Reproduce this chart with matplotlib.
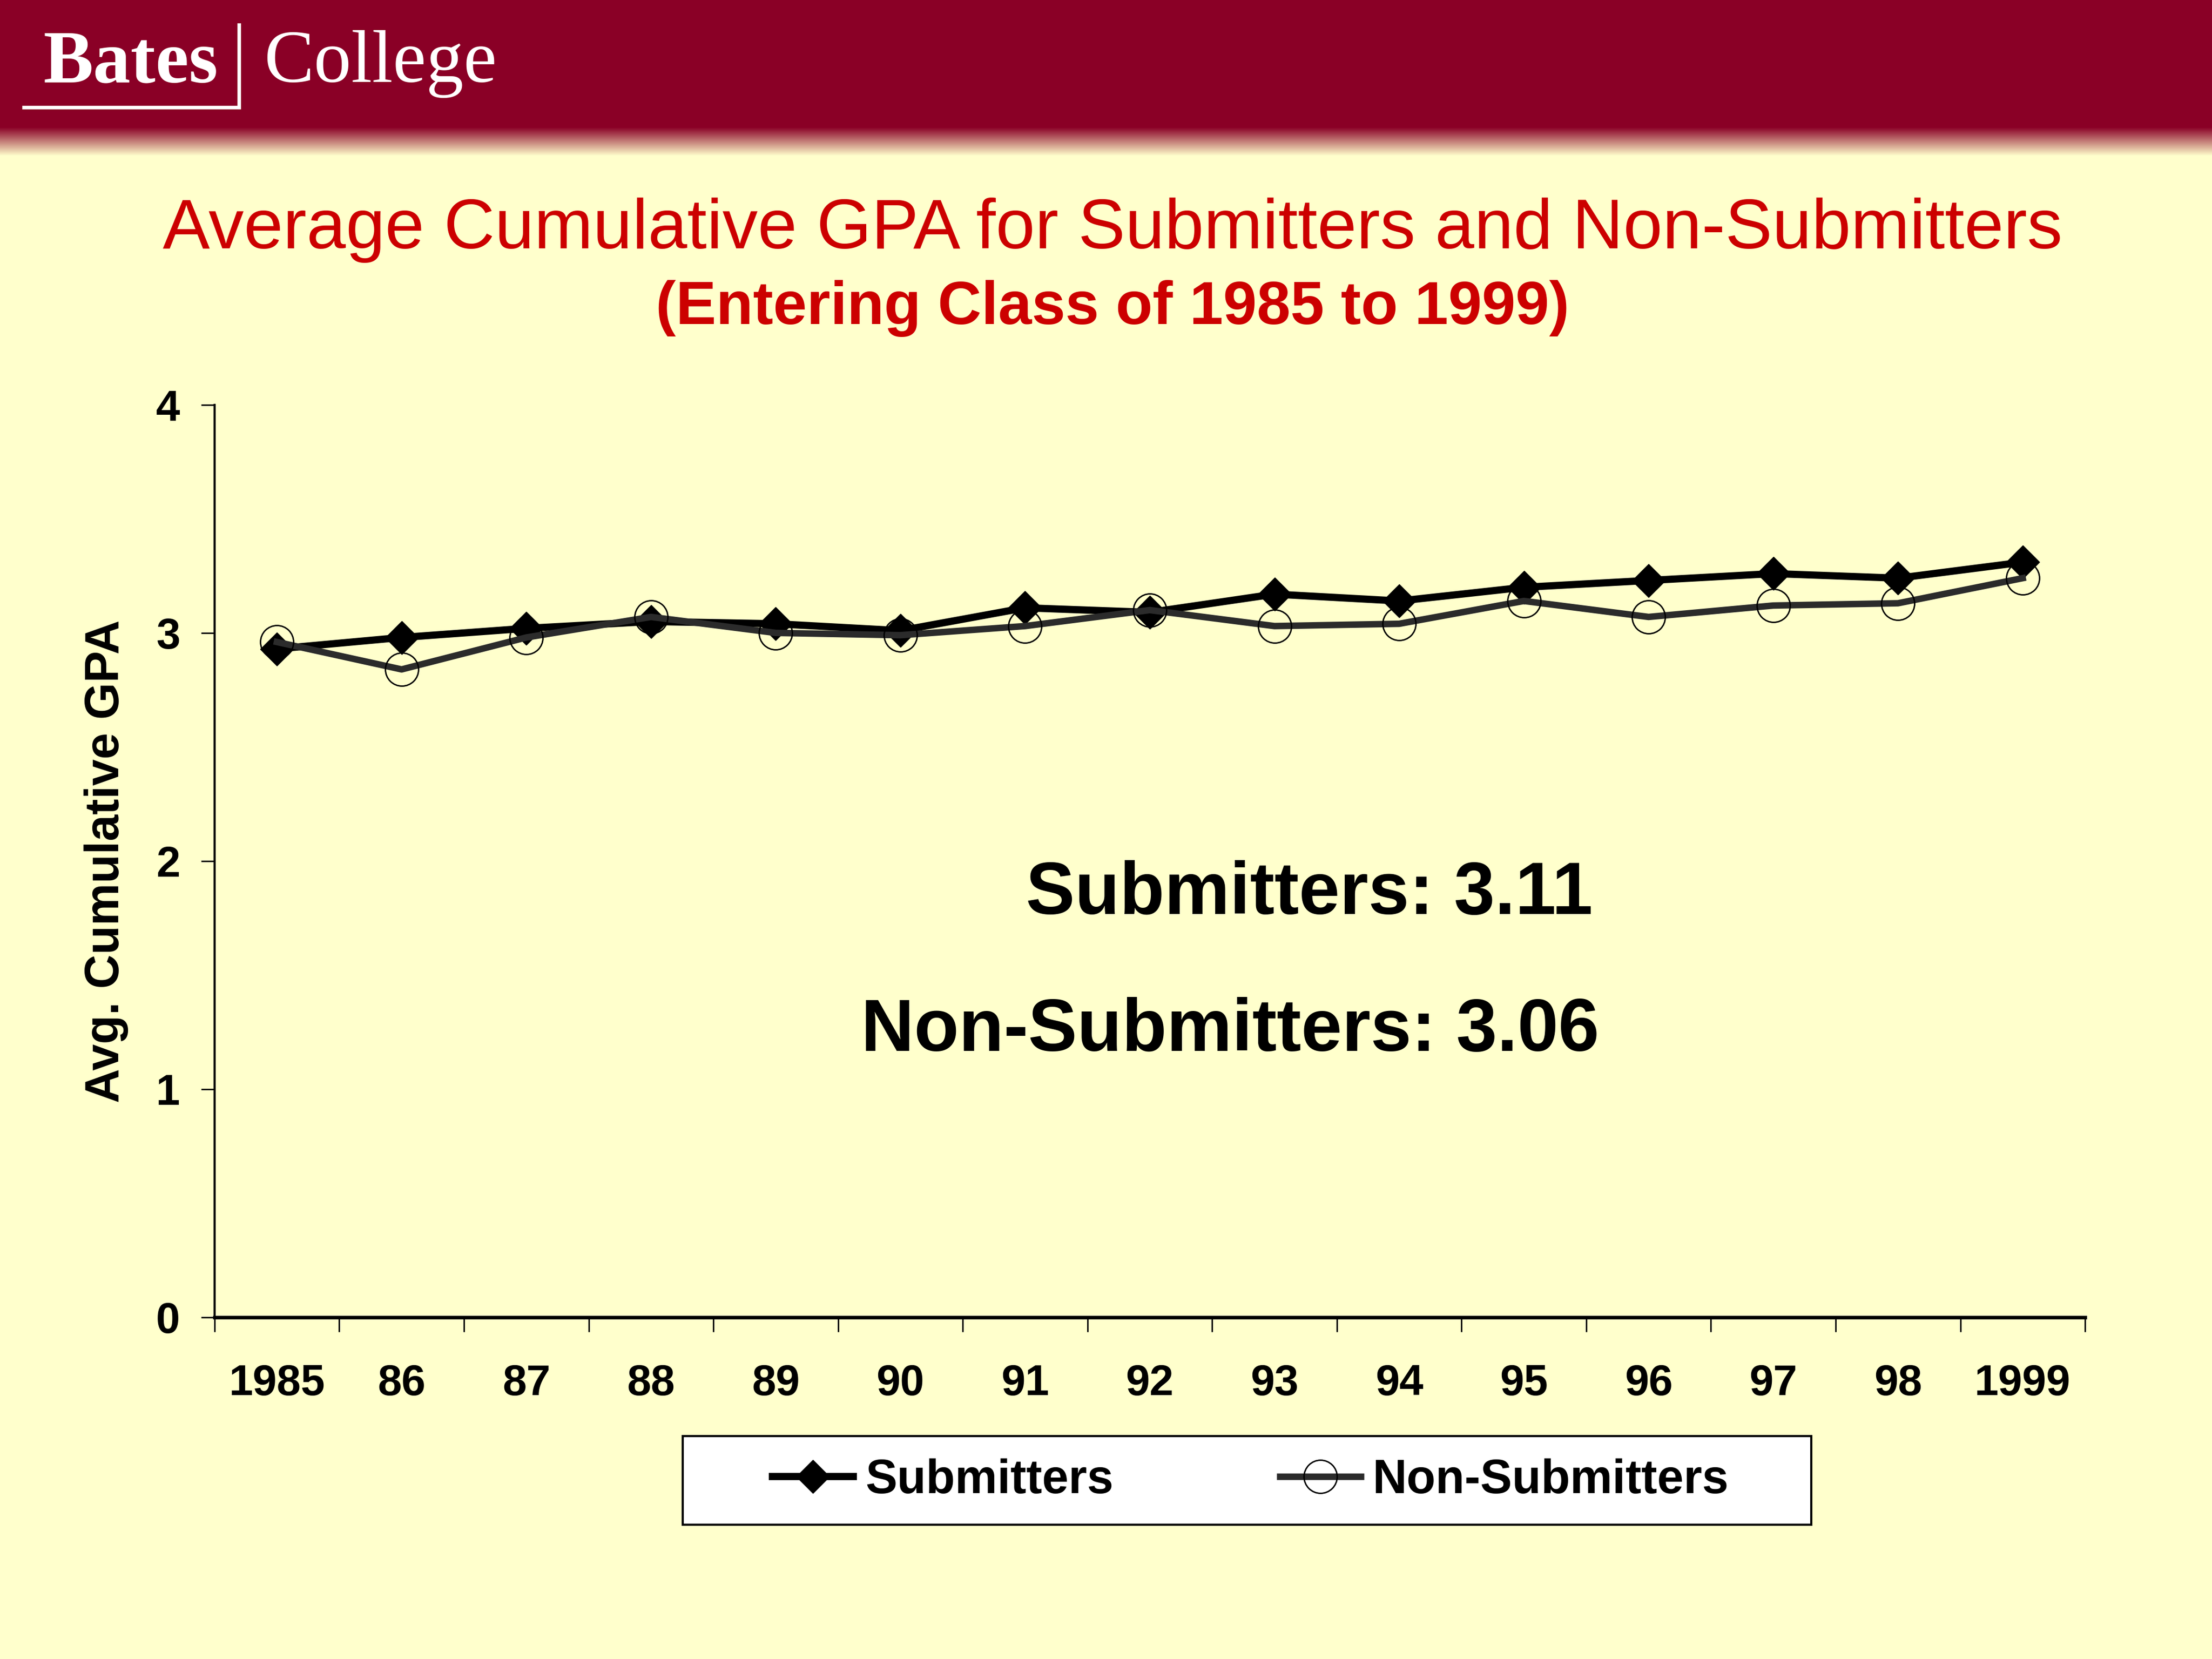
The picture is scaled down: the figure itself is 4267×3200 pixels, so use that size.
import numpy as np
import matplotlib
matplotlib.use('Agg')
import matplotlib.pyplot as plt
from matplotlib.lines import Line2D
from matplotlib.patches import Rectangle

# data
years = ['1985', '86', '87', '88', '89', '90', '91', '92',
         '93', '94', '95', '96', '97', '98', '1999']
submitters = [2.93, 2.98, 3.02, 3.05, 3.04, 3.01, 3.11, 3.09,
              3.17, 3.14, 3.20, 3.23, 3.26, 3.24, 3.31]
non_submitters = [2.96, 2.84, 2.98, 3.07, 3.00, 2.99, 3.03, 3.10,
                  3.03, 3.04, 3.14, 3.07, 3.12, 3.13, 3.24]
y_ticks = [0, 1, 2, 3, 4]

BG = '#FFFFCC'
HEADER = '#8A0026'
RED = '#CC0000'

plt.rcParams['font.family'] = ['Liberation Sans', 'DejaVu Sans']

fig = plt.figure(figsize=(42.67, 32), dpi=100, facecolor=BG)

# header band with a soft fade into the background
bg = fig.add_axes([0, 0, 1, 1], zorder=-5)
bg.axis('off')
rows = np.zeros((3200, 1, 3))
top_rgb = np.array(matplotlib.colors.to_rgb(HEADER))
bot_rgb = np.array(matplotlib.colors.to_rgb(BG))
t = np.clip((np.arange(3200) - 245) / 55.0, 0, 1)
rows[:, 0, :] = top_rgb[None, :] * (1 - t[:, None]) + bot_rgb[None, :] * t[:, None]
bg.imshow(rows, aspect='auto', extent=(0, 1, 0, 1), origin='upper')
bg.set_xlim(0, 1)
bg.set_ylim(0, 1)

# logo
fig.text(0.0195, 0.9506, 'Bates', color='white', fontsize=104,
         family='Liberation Serif', fontweight='bold', va='baseline')
fig.text(0.1193, 0.9506, 'College', color='white', fontsize=104,
         family='Liberation Serif', va='baseline')
fig.add_artist(Line2D([0.0108, 0.108], [0.9353, 0.9353], color='white', lw=5))
fig.add_artist(Line2D([0.108, 0.108], [0.9353, 0.985], color='white', lw=5))

# titles
fig.text(0.503, 0.8503, 'Average Cumulative GPA for Submitters and Non-Submitters',
         ha='center', va='baseline', fontsize=98, color=RED)
fig.text(0.503, 0.8047, '(Entering Class of 1985 to 1999)',
         ha='center', va='baseline', fontsize=84, color=RED, fontweight='bold')

ax = fig.add_axes([0.097, 0.206, 0.8456, 0.55])
ax.set_facecolor('none')
x = np.arange(len(years))

ax.plot(x, submitters, color='black', lw=10, marker='D', ms=33,
        mfc='black', mec='black', label='Submitters', zorder=3)
ax.plot(x, non_submitters, color='#2b2b2b', lw=9, marker='o', ms=46,
        mfc='none', mec='black', mew=2, label='Non-Submitters', zorder=4)

ax.set_xlim(-0.5, len(years) - 0.5)
ax.set_ylim(0, 4)
ax.set_xticks(x)
ax.set_xticklabels(years)
ax.set_xticks(np.arange(-0.5, len(years), 1), minor=True)
ax.tick_params(axis='x', which='major', length=0, pad=64, labelsize=60)
ax.tick_params(axis='x', which='minor', length=20, width=2, direction='out')
ax.set_yticks(y_ticks)
ax.tick_params(axis='y', length=19, width=2, direction='out', pad=29, labelsize=60)
for lab in ax.get_xticklabels() + ax.get_yticklabels():
    lab.set_fontweight('bold')

ax.spines['top'].set_visible(False)
ax.spines['right'].set_visible(False)
ax.spines['left'].set_linewidth(3)
ax.spines['bottom'].set_linewidth(5)

fig.text(0.048, 0.481, 'Avg. Cumulative GPA', rotation=90, ha='center', va='center',
         fontsize=66, fontweight='bold')

fig.text(0.592, 0.449, 'Submitters: 3.11', ha='center', va='baseline',
         fontsize=102, fontweight='bold')
fig.text(0.556, 0.3665, 'Non-Submitters: 3.06', ha='center', va='baseline',
         fontsize=102, fontweight='bold')

# legend
fig.patches.append(Rectangle((0.3087, 0.0808), 0.8189 - 0.3087, 0.1344 - 0.0808,
                             transform=fig.transFigure, facecolor='white',
                             edgecolor='black', lw=3, zorder=1))
leg = fig.legend(loc='center', bbox_to_anchor=(0.5654, 0.1076), ncol=2,
                 frameon=False, handlelength=1.7, handletextpad=0.25,
                 columnspacing=3.5, prop={'weight': 'bold', 'size': 66})
leg.set_zorder(5)

fig.savefig('out.png', dpi=100, facecolor=BG)
